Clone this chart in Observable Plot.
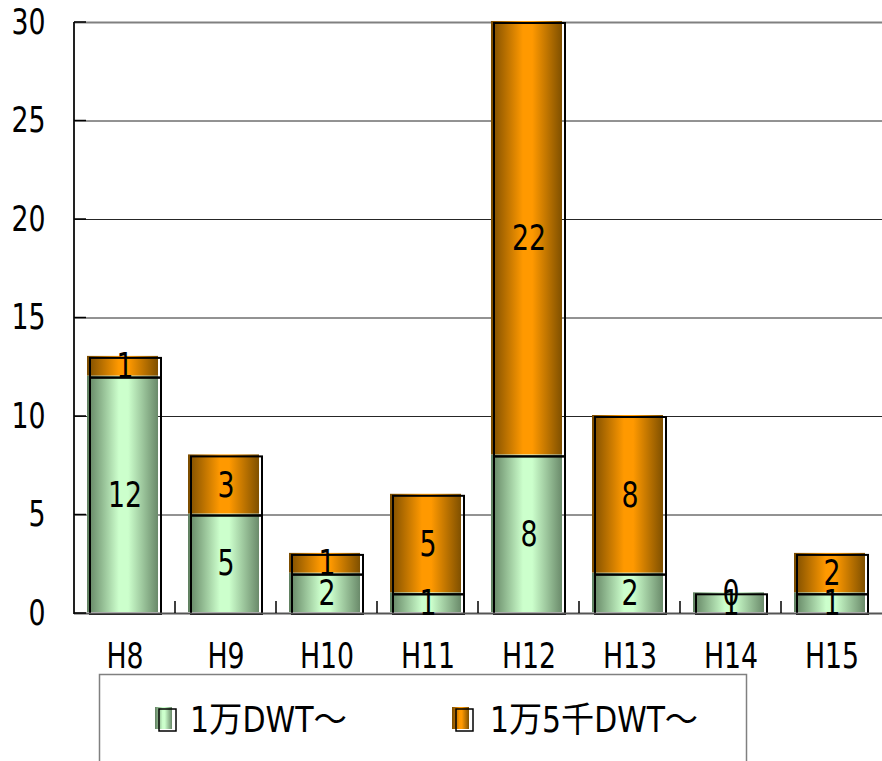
<!DOCTYPE html>
<html>
<head>
<meta charset="utf-8">
<script src="https://cdn.jsdelivr.net/npm/d3@7"></script>
<script src="https://cdn.jsdelivr.net/npm/@observablehq/plot@0.6"></script>
<style>
  html, body { margin: 0; padding: 0; background: #fff; }
  #chart svg { display: block; overflow: visible; }
  #legend { margin-top: -8px; position: relative; }
</style>
</head>
<body>
<div id="chart"></div>
<script>
const categories = ["H8", "H9", "H10", "H11", "H12", "H13", "H14", "H15"];
const seriesNames = ["1万DWT～", "1万5千DWT～"];
const smallShips = [12, 5, 2, 1, 8, 2, 1, 1];
const largeShips = [1, 3, 1, 5, 22, 8, 0, 2];
const yTicks = [0, 5, 10, 15, 20, 25, 30];

const FONT = "'Liberation Sans Narrow', 'Arial Narrow', 'DejaVu Sans Condensed', 'Noto Sans CJK JP', sans-serif";

const data = [];
categories.forEach((c, i) => {
  data.push({cat: c, series: seriesNames[0], value: smallShips[i]});
  data.push({cat: c, series: seriesNames[1], value: largeShips[i]});
});

const chart = Plot.plot({
  width: 882,
  height: 680,
  marginTop: 22,
  marginRight: 0,
  marginBottom: 67,
  marginLeft: 74,
  style: {fontFamily: FONT, fontSize: "35px", background: "transparent", color: "#000"},
  x: {domain: categories, paddingInner: 0.3, paddingOuter: 0.15, label: null, tickSize: 0, tickPadding: 30},
  y: {domain: [0, 30], ticks: yTicks, label: null, tickSize: 0, tickPadding: 29},
  color: {domain: seriesNames, range: ["url(#gGreen)", "url(#gOrange)"]},
  marks: [
    Plot.ruleY(yTicks.filter(t => t > 0 && t < 30), {stroke: "#000", strokeWidth: 1, strokeOpacity: 0.85}),
    Plot.ruleY([30], {stroke: "#808080", strokeWidth: 2}),
    Plot.barY(data, {x: "cat", y: "value", fill: "series", dx: -2, dy: -1}),
    Plot.barY(data, {x: "cat", y: "value", z: "series", fill: "none", stroke: "#000", strokeWidth: 2, dx: 1, dy: 1}),
    Plot.ruleY([0], {stroke: "#555", strokeWidth: 2}),
    Plot.text(data, Plot.stackY({x: "cat", y: "value", z: "series", text: d => String(d.value), fontSize: 35, fill: "#000"}))
  ]
});

const svg = d3.select(chart);
const defs = svg.insert("defs", ":first-child");
function grad(id, edgeL, mid, edgeR) {
  const g = defs.append("linearGradient").attr("id", id).attr("x1", 0).attr("x2", 1).attr("y1", 0).attr("y2", 0);
  g.append("stop").attr("offset", "0").attr("stop-color", edgeL);
  g.append("stop").attr("offset", "0.45").attr("stop-color", mid);
  g.append("stop").attr("offset", "0.58").attr("stop-color", mid);
  g.append("stop").attr("offset", "1").attr("stop-color", edgeR);
}
grad("gGreen", "#5f7f5f", "#ccffcc", "#6a8a6a");
grad("gOrange", "#7a4c00", "#ff9900", "#7f5000");

const xs = chart.scale("x");
const ys = chart.scale("y");
const y0 = ys.apply(0);
const yTop = ys.apply(30);
const left = xs.range[0];
const gap = (xs.step - xs.bandwidth) / 2;
const over = svg.append("g");
over.append("line").attr("x1", left).attr("x2", left).attr("y1", yTop).attr("y2", y0 + 1)
  .attr("stroke", "#222").attr("stroke-width", 2);
yTicks.forEach(t => {
  over.append("line").attr("x1", left).attr("x2", left + 12).attr("y1", ys.apply(t)).attr("y2", ys.apply(t))
    .attr("stroke", "#000").attr("stroke-width", 1.5);
});
categories.forEach((c, i) => {
  if (i === 0) return;
  const bx = xs.apply(c) - gap;
  over.append("line").attr("x1", bx).attr("x2", bx).attr("y1", y0 - 12).attr("y2", y0)
    .attr("stroke", "#000").attr("stroke-width", 1.5);
});

document.getElementById("chart").appendChild(chart);

// condense the glyphs horizontally to resemble the narrow original font
svg.selectAll("text").each(function() {
  const el = this;
  const tspans = el.querySelectorAll("tspan");
  const targets = tspans.length ? Array.from(tspans) : [el];
  targets.forEach(t => {
    const len = t.getComputedTextLength();
    if (len > 0) {
      t.setAttribute("textLength", (len * 0.85).toFixed(2));
      t.setAttribute("lengthAdjust", "spacingAndGlyphs");
    }
  });
});

// Legend below the plot
const legend = d3.select("body").append("svg")
  .attr("id", "legend")
  .attr("width", 882).attr("height", 89)
  .style("display", "block")
  .style("font-family", FONT);
legend.append("rect").attr("x", 99.5).attr("y", 2.5).attr("width", 647).attr("height", 200)
  .attr("fill", "#fff").attr("stroke", "#808080").attr("stroke-width", 1.5);
const items = [
  {name: seriesNames[0], fill: "url(#gGreen)", sx: 155, tx: 190, tl: 157},
  {name: seriesNames[1], fill: "url(#gOrange)", sx: 452, tx: 490, tl: 208}
];
items.forEach(it => {
  legend.append("rect").attr("x", it.sx).attr("y", 35).attr("width", 17).attr("height", 22).attr("fill", it.fill);
  legend.append("rect").attr("x", it.sx + 4).attr("y", 37).attr("width", 17).attr("height", 22)
    .attr("fill", "none").attr("stroke", "#000").attr("stroke-width", 1.5);
  legend.append("text").attr("x", it.tx).attr("y", 60).attr("font-size", 35)
    .attr("textLength", it.tl).attr("lengthAdjust", "spacingAndGlyphs")
    .attr("fill", "#000").text(it.name);
});
</script>
</body>
</html>
